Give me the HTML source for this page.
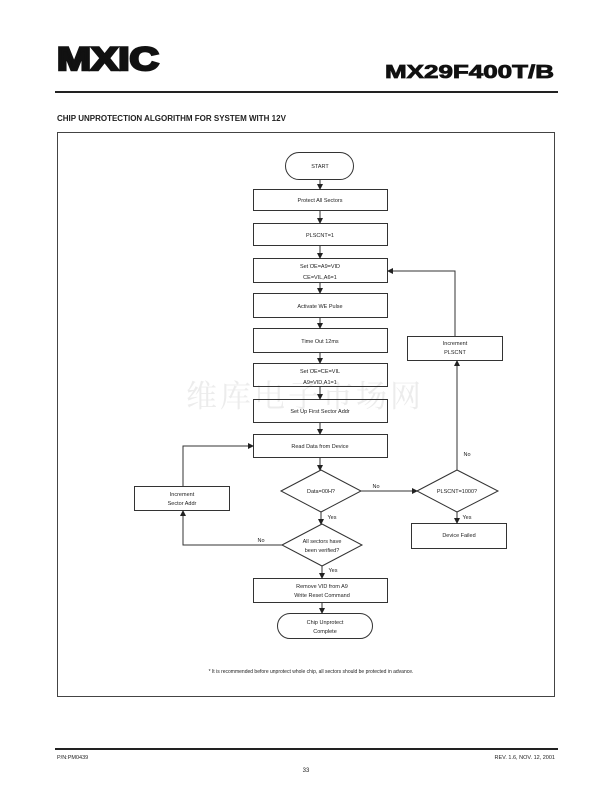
<!DOCTYPE html>
<html><head><meta charset="utf-8"><style>
html,body{margin:0;padding:0;background:#fff;}
svg{display:block;}
text{font-family:"Liberation Sans",Arial,sans-serif;fill:#222;}
</style></head><body>
<svg width="612" height="792" viewBox="0 0 612 792" xmlns="http://www.w3.org/2000/svg">
<defs><marker id="a" markerWidth="6" markerHeight="6" refX="5" refY="3" orient="auto" markerUnits="userSpaceOnUse"><path d="M0,0 L6,3 L0,6 z" fill="#222"/></marker></defs>
<text x="57" y="70" font-size="32" font-weight="bold" stroke="#111" stroke-width="2.5" style="fill:#111" textLength="102" lengthAdjust="spacingAndGlyphs">MXIC</text>
<text x="385" y="78" font-size="18" font-weight="bold" stroke="#111" stroke-width="0.8" style="fill:#111" textLength="169" lengthAdjust="spacingAndGlyphs">MX29F400T/B</text>
<rect x="55" y="91" width="503" height="2" fill="#222"/>
<text x="57" y="121" font-size="8" font-weight="bold">CHIP UNPROTECTION ALGORITHM FOR SYSTEM WITH 12V</text>
<rect x="57.5" y="132.5" width="497" height="564" fill="none" stroke="#444" stroke-width="1"/>
<text x="305" y="407" font-size="31" text-anchor="middle" style="font-family:'Noto Serif CJK SC',serif;fill:#ececec;letter-spacing:3px">维库电子市场网</text>
<g fill="none" stroke="#333" stroke-width="1">
<rect x="285.5" y="152.5" width="68" height="27" rx="13.5"/>
<rect x="253.5" y="189.5" width="134" height="21"/>
<rect x="253.5" y="223.5" width="134" height="22"/>
<rect x="253.5" y="258.5" width="134" height="24"/>
<rect x="253.5" y="293.5" width="134" height="24"/>
<rect x="253.5" y="328.5" width="134" height="24"/>
<rect x="253.5" y="363.5" width="134" height="23"/>
<rect x="253.5" y="399.5" width="134" height="23"/>
<rect x="253.5" y="434.5" width="134" height="23"/>
<path d="M281,491 L321,470 L361,491 L321,512 Z"/>
<path d="M282,545 L322,524 L362,545 L322,566 Z"/>
<rect x="253.5" y="578.5" width="134" height="24"/>
<rect x="277.5" y="613.5" width="95" height="25" rx="12.5"/>
<rect x="134.5" y="486.5" width="95" height="24"/>
<path d="M417,491 L457,470 L498,491 L457,512 Z"/>
<rect x="411.5" y="523.5" width="95" height="25"/>
<rect x="407.5" y="336.5" width="95" height="24"/>
</g>
<g fill="none" stroke="#333" stroke-width="1" marker-end="url(#a)">
<line x1="320" y1="180" x2="320" y2="189"/>
<line x1="320" y1="211" x2="320" y2="223"/>
<line x1="320" y1="246" x2="320" y2="258"/>
<line x1="320" y1="283" x2="320" y2="293"/>
<line x1="320" y1="318" x2="320" y2="328"/>
<line x1="320" y1="353" x2="320" y2="363"/>
<line x1="320" y1="387" x2="320" y2="399"/>
<line x1="320" y1="423" x2="320" y2="434"/>
<line x1="320" y1="458" x2="320" y2="470"/>
<line x1="321" y1="512" x2="321" y2="524"/>
<line x1="322" y1="566" x2="322" y2="578"/>
<line x1="322" y1="603" x2="322" y2="613"/>
<line x1="361" y1="491" x2="417" y2="491"/>
<line x1="457" y1="512" x2="457" y2="523"/>
<line x1="457" y1="470" x2="457" y2="361"/>
<polyline points="455,336 455,271 388,271"/>
<polyline points="282,545 183,545 183,511"/>
<polyline points="183,486 183,446 253,446"/>
</g>
<g font-size="5.5" text-anchor="middle">
<text x="320" y="168">START</text>
<text x="320" y="202">Protect All Sectors</text>
<text x="320" y="237">PLSCNT=1</text>
<text x="320" y="268">Set <tspan text-decoration="overline">OE</tspan>=A9=VID</text>
<text x="320" y="279"><tspan text-decoration="overline">CE</tspan>=VIL,A6=1</text>
<text x="320" y="308">Activate <tspan text-decoration="overline">WE</tspan> Pulse</text>
<text x="320" y="343">Time Out 12ms</text>
<text x="320" y="373">Set <tspan text-decoration="overline">OE</tspan>=<tspan text-decoration="overline">CE</tspan>=VIL</text>
<text x="320" y="384">A9=VID,A1=1</text>
<text x="320" y="413">Set Up First Sector Addr</text>
<text x="320" y="448">Read Data from Device</text>
<text x="321" y="493">Data=00H?</text>
<text x="322" y="543">All sectors have</text>
<text x="322" y="552">been verified?</text>
<text x="322" y="588">Remove VID from A9</text>
<text x="322" y="597">Write Reset Command</text>
<text x="325" y="624">Chip Unprotect</text>
<text x="325" y="633">Complete</text>
<text x="182" y="496">Increment</text>
<text x="182" y="505">Sector Addr</text>
<text x="457" y="493">PLSCNT=1000?</text>
<text x="459" y="537">Device Failed</text>
<text x="455" y="345">Increment</text>
<text x="455" y="354">PLSCNT</text>
<text x="376" y="488">No</text>
<text x="467" y="456">No</text>
<text x="261" y="542">No</text>
<text x="332" y="519">Yes</text>
<text x="333" y="572">Yes</text>
<text x="467" y="519">Yes</text>
<text x="311" y="673" font-size="5">* It is recommended before unprotect whole chip,  all sectors should be protected in advance.</text>
</g>
<rect x="55" y="748" width="503" height="2" fill="#222"/>
<text x="57" y="759" font-size="5.5">P/N:PM0439</text>
<text x="555" y="759" font-size="5.5" text-anchor="end">REV. 1.6, NOV. 12, 2001</text>
<text x="306" y="772" font-size="6" text-anchor="middle">33</text>
</svg>
</body></html>
